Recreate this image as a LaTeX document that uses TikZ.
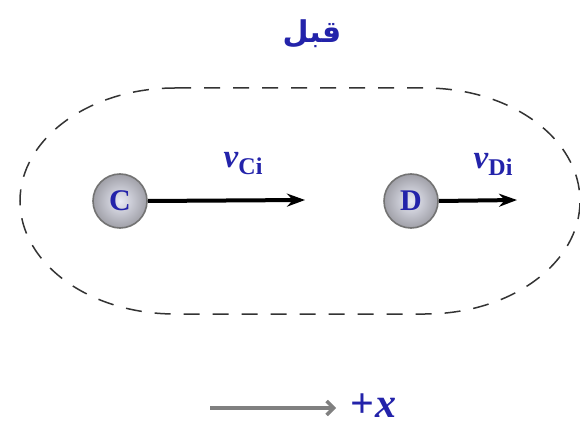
\documentclass[tikz,border=0pt]{standalone}
\usepackage{fontspec}
\setmainfont{Liberation Serif}
\newfontfamily\arabicfont[Script=Arabic]{DejaVu Sans}
\TeXXeTstate=1
\usetikzlibrary{arrows.meta,shadings}
\definecolor{txtblue}{RGB}{35,35,170}
\definecolor{ballin}{RGB}{232,234,245}
\definecolor{ballout}{RGB}{160,160,168}
\tikzset{
  ball/.style={circle, minimum size=54pt, inner sep=0pt, draw=black!55, line width=1.6pt,
    inner color=ballin, outer color=ballout, text=txtblue, font=\fontsize{30}{30}\selectfont\bfseries},
  velarrow/.style={line width=4pt, -{Stealth[length=18pt,width=13pt]}},
  vlabel/.style={text=txtblue, inner sep=0pt, font=\fontsize{33}{33}\selectfont\bfseries}
}
\newcommand{\vsub}[1]{\textit{v}\raisebox{-7pt}{\fontsize{24}{24}\selectfont #1}}
\begin{document}
\begin{tikzpicture}[x=1pt,y=-1pt]
\useasboundingbox (0,0) rectangle (580,435);
\node (title) at (312,34) {\arabicfont\bfseries\fontsize{30}{30}\selectfont\color{txtblue}\beginR قبل\endR};
\draw[line width=1.5pt, dash pattern=on 16pt off 13pt, black!80]
  (175,88) -- (425,88) arc[start angle=-90, end angle=90, x radius=155, y radius=113]
  -- (175,314) arc[start angle=90, end angle=270, x radius=155, y radius=113] -- cycle;
\node[ball] (C) at (120,201) {C};
\node[ball] (D) at (411,201) {D};
\coordinate (Cend) at (305,200);
\coordinate (Dend) at (517,200);
\draw[velarrow] (C.east) -- (Cend);
\draw[velarrow] (D.east) -- (Dend);
\node[vlabel] (vC) at (243,164) {\vsub{Ci}};
\node[vlabel] (vD) at (493,164) {\vsub{Di}};
\coordinate (xs) at (210,408);
\node[vlabel, anchor=west, font=\fontsize{42}{42}\selectfont\bfseries] (xl) at (350,406) {+\kern1pt\textit{x}};
\draw[gray, line width=3.5pt, -{Straight Barb[length=7pt,width=14pt]}] (xs) -- ([xshift=-14pt,yshift=-2pt]xl.west);
\end{tikzpicture}
\end{document}
